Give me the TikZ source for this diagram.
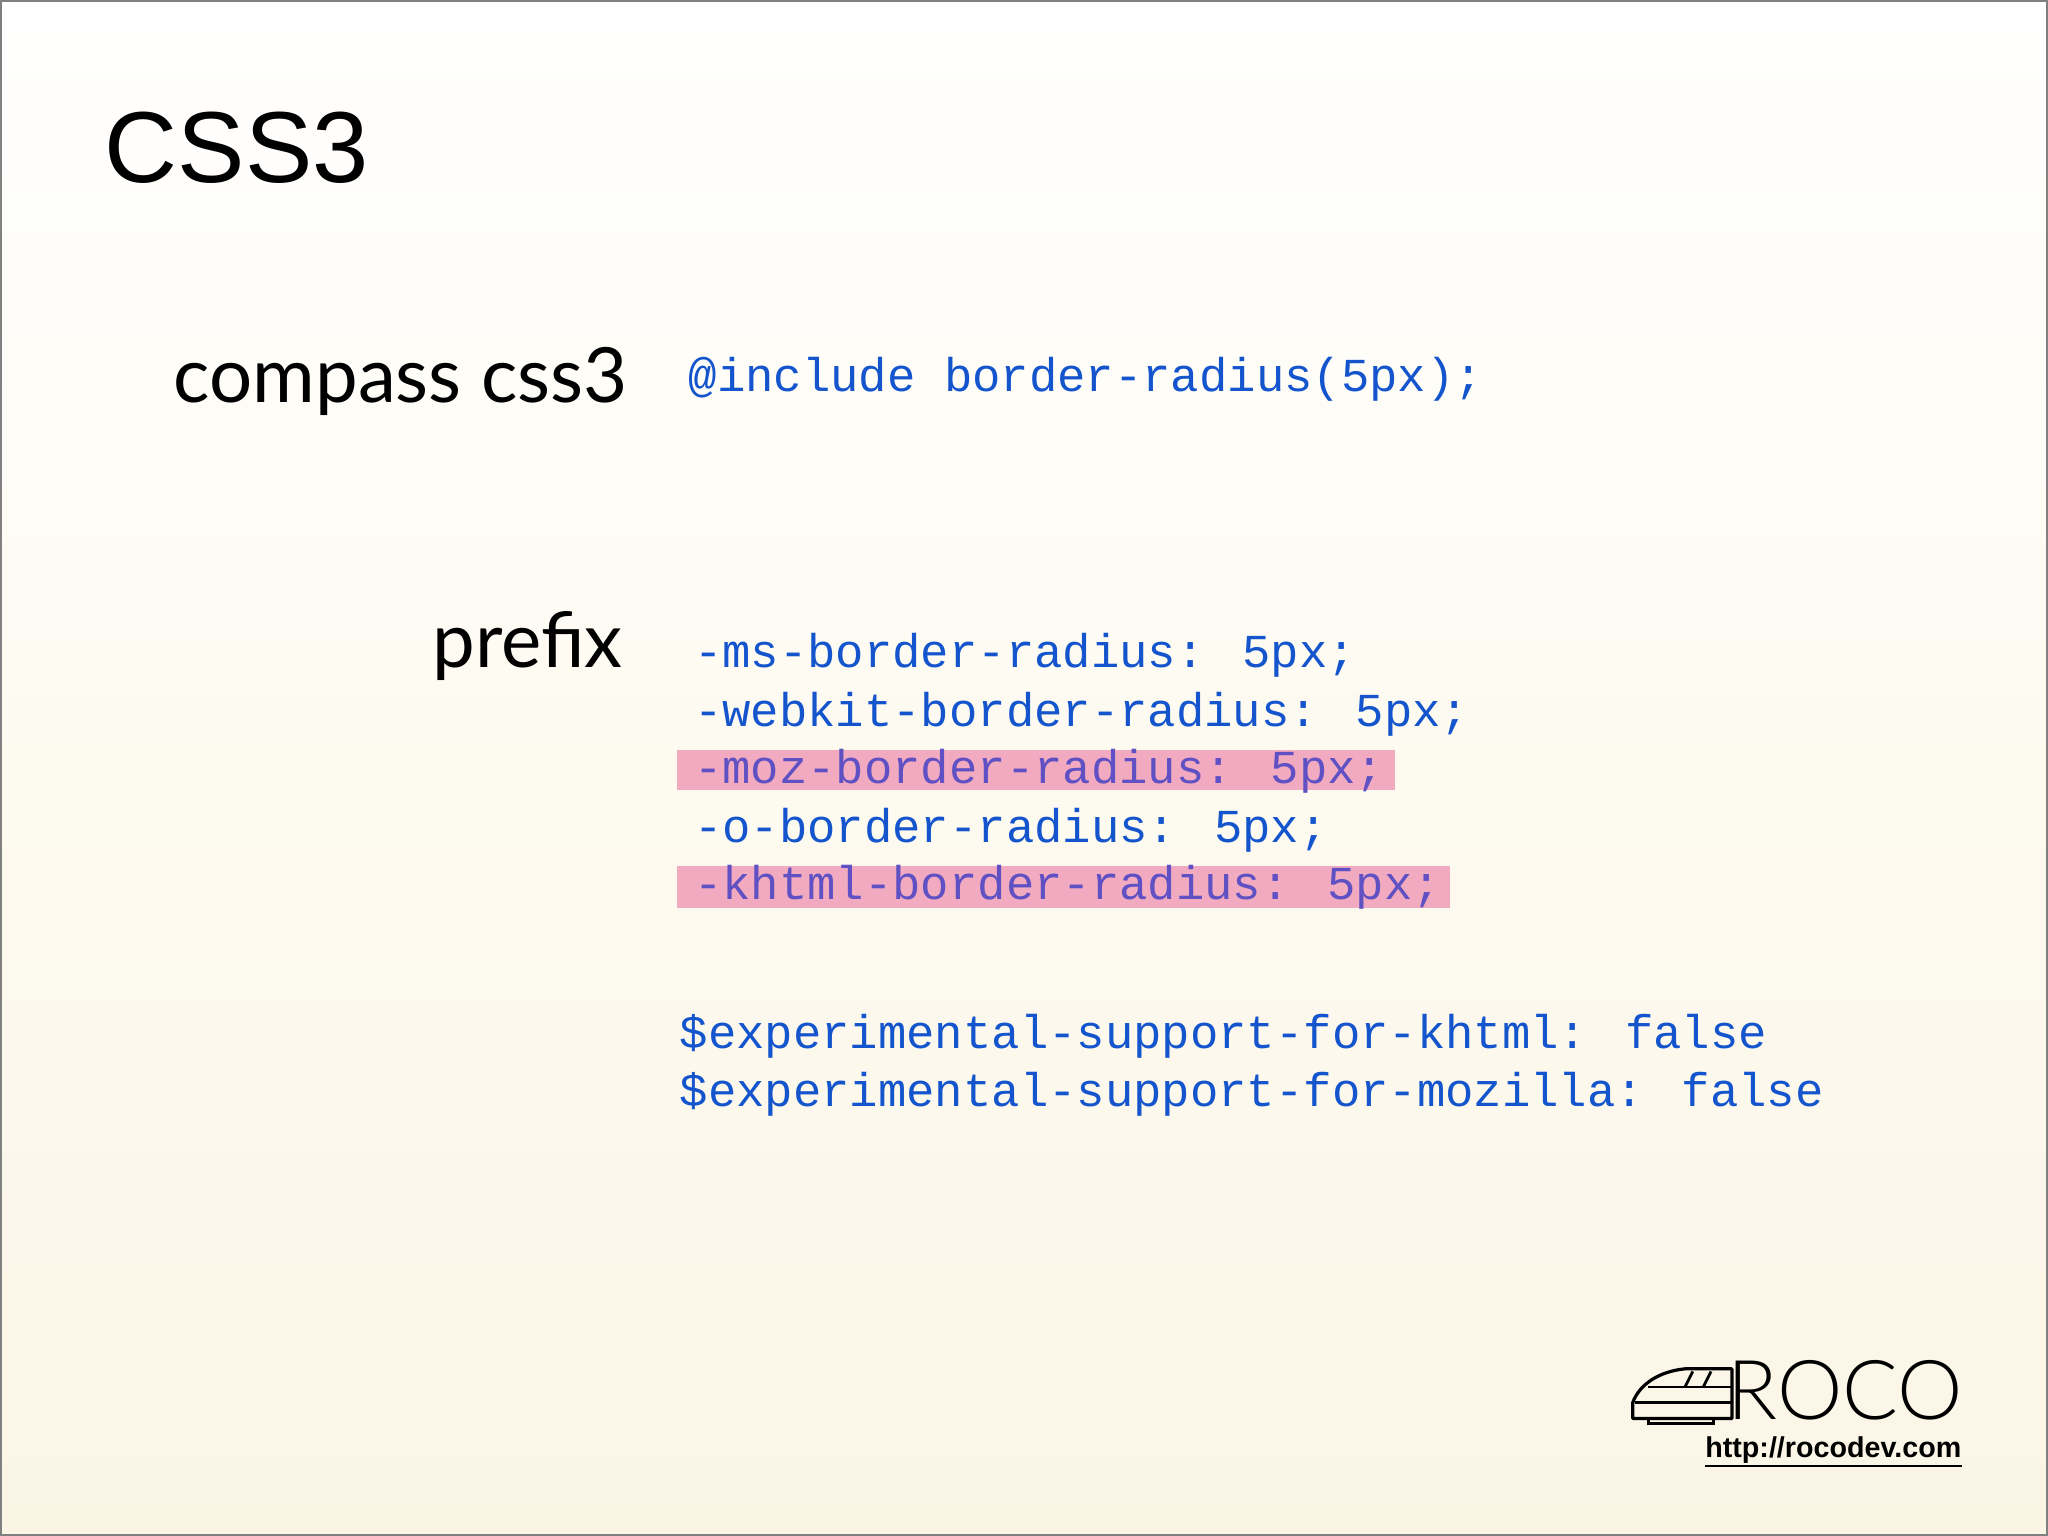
\documentclass[tikz,border=0pt]{standalone}
\usepackage{fontspec}
\setmainfont{Liberation Sans}
\newfontfamily\gill{Lato}
\newfontfamily\code{Liberation Mono}
\definecolor{codeblue}{RGB}{20,85,205}
\definecolor{hlpink}{RGB}{242,170,192}
\definecolor{hltext}{RGB}{95,80,195}
\definecolor{cream}{RGB}{251,245,230}
\begin{document}
\begin{tikzpicture}[x=0.02cm,y=-0.02cm,
  codetxt/.style={anchor=base west,inner sep=0,font=\code\fontsize{20.6pt}{24pt}\selectfont,text=codeblue},
  hltxt/.style={codetxt,text=hltext},
  hlbox/.style={fill=hlpink,draw=none},
  label/.style={inner sep=0,font=\gill\fontsize{33.2pt}{38pt}\selectfont}]
\useasboundingbox (0,0) rectangle (1568,1176);
\shade[top color=white,bottom color=cream,middle color={rgb,255:red,253;green,250;blue,240}] (0,0) rectangle (1568,1176);
\draw[gray,line width=0.8pt] (0.5,0.5) rectangle (1567.5,1175.5);
\node[anchor=base west,inner sep=0,font=\fontsize{44pt}{50pt}\selectfont] (title) at (80,140) {CSS3};
\node[label,anchor=base east] (compass) at (481,308) {compass css3};
\node[label,anchor=base east] (prefix) at (477,511) {prefix};
\node[codetxt] (inc) at (527,300) {@include border-radius(5px);};
\fill[hlbox] (518,574) rectangle (1068,605);
\fill[hlbox] (518,663) rectangle (1110,695);
\node[codetxt] (l1) at (531,511) {-ms-border-radius: 5px;};
\node[codetxt] (l2) at (531,556) {-webkit-border-radius: 5px;};
\node[hltxt] (l3) at (531,600) {-moz-border-radius: 5px;};
\node[codetxt] (l4) at (531,645) {-o-border-radius: 5px;};
\node[hltxt] (l5) at (531,689) {-khtml-border-radius: 5px;};
\node[codetxt] (e1) at (520,803) {\$experimental-support-for-khtml: false};
\node[codetxt] (e2) at (520,847) {\$experimental-support-for-mozilla: false};
% logo
\node[anchor=base west,inner sep=0,font=\fontspec{Lato Light}\fontsize{36pt}{40pt}\selectfont] (roco) at (1322,1087) {ROCO};
\draw[line width=1.4pt,line join=round] (1250,1086) -- (1250,1074) .. controls (1255,1060) and (1270,1050) .. (1290,1048) -- (1326,1048) -- (1326,1086) -- cycle;
\draw[line width=1.2pt] (1262,1062) -- (1326,1062);
\draw[line width=1.2pt] (1290,1062) -- (1296,1050);
\draw[line width=1.2pt] (1304,1062) -- (1310,1050);
\draw[line width=1.2pt] (1252,1074) -- (1326,1074);
\draw[line width=1.2pt] (1262,1086) rectangle (1312,1090);
\node[anchor=base east,inner sep=0,font=\bfseries\fontsize{12.5pt}{14pt}\selectfont] (url) at (1502,1116) {http://rocodev.com};
\draw[line width=0.8pt] ([yshift=-1pt]url.south west) -- ([yshift=-1pt]url.south east);
\end{tikzpicture}
\end{document}
